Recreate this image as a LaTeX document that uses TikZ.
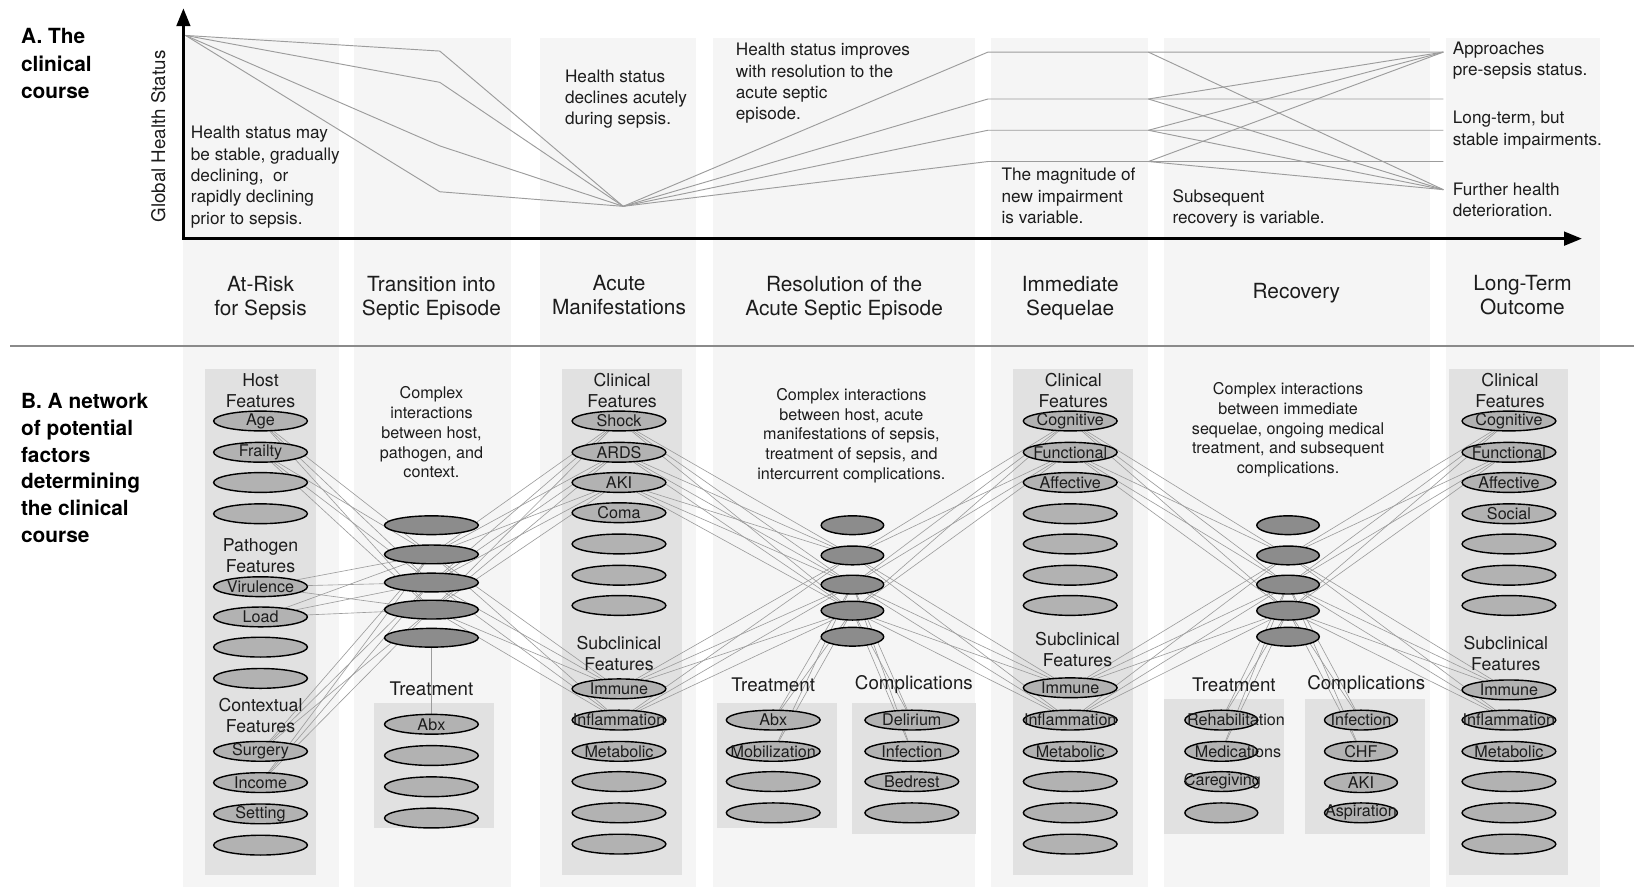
\documentclass[tikz,border=0pt]{standalone}
\usepackage{fontspec}
\setmainfont{TeX Gyre Heros}
\usetikzlibrary{shapes.geometric,arrows.meta}
\pgfdeclarelayer{bg}
\pgfdeclarelayer{mid}
\pgfsetlayers{bg,mid,main}
\definecolor{colbg}{HTML}{F5F5F5}
\definecolor{boxbg}{HTML}{E1E1E1}
\definecolor{ellfill}{HTML}{B2B2B2}
\definecolor{hubfill}{HTML}{8C8C8C}
\definecolor{linegray}{HTML}{9C9C9C}
\definecolor{sepgray}{HTML}{8A8A8A}
\definecolor{txt}{HTML}{1C1C1C}
\tikzset{
  ell/.style={ellipse, draw=black, line width=1.35pt, fill=ellfill, minimum width=90pt, minimum height=19pt, inner sep=0pt},
  ellsm/.style={ell, minimum width=70pt},
  hub/.style={ell, fill=hubfill, minimum height=18pt},
  hubsm/.style={hub, minimum width=60pt},
  elab/.style={font=\fontsize{15.5}{15.5}\selectfont, inner sep=0pt, text=txt},
  conn/.style={draw=linegray, line width=0.6pt},
  course/.style={draw=linegray, line width=0.9pt},
  atxt/.style={font=\fontsize{16.5}{20.5}\selectfont, align=left, anchor=west, inner sep=0pt, text=txt},
  hdr/.style={font=\fontsize{20}{23}\selectfont, align=center, inner sep=0pt, text=txt},
  grp/.style={font=\fontsize{17}{20}\selectfont, align=center, inner sep=0pt, text=txt},
  tlab/.style={font=\fontsize{18}{18}\selectfont, inner sep=0pt, text=txt},
  cx/.style={font=\fontsize{15.5}{19}\selectfont, align=center, inner sep=0pt, text=txt},
  big/.style={font=\bfseries\fontsize{20}{26}\selectfont, align=left, anchor=west, inner sep=0pt},
}
\newcommand\Ell[4]{\node[#1] (#2) at (#3) {}; \node[elab] (#2-t) at (#2.center) {#4};}
\begin{document}
\begin{tikzpicture}[x=1pt,y=-1pt]
\useasboundingbox (0,0) rectangle (1568,851);
\begin{pgfonlayer}{bg}
  \fill[white] (0,0) rectangle (1568,851);
  \foreach \a/\b in {176/325,340/490,518/668,684/936,951/1102,1117/1372,1388/1535}
    \fill[colbg] (\a,36) rectangle (\b,851);
  \fill[boxbg] (197,354) rectangle (303,840);
  \fill[boxbg] (539,354) rectangle (654,840);
  \fill[boxbg] (972,354) rectangle (1087,840);
  \fill[boxbg] (1390,354) rectangle (1505,840);
  \fill[boxbg] (359,675) rectangle (474,795);
  \fill[boxbg] (688,675) rectangle (803,795);
  \fill[boxbg] (818,675) rectangle (937,800);
  \fill[boxbg] (1117,671) rectangle (1232,800);
  \fill[boxbg] (1252,671) rectangle (1367,800);
\end{pgfonlayer}

% ---------- Part A ----------
\node[big] (labA) at (20,61) {A. The\\clinical\\course};
\draw[sepgray, line width=2pt] (10,332) -- (1568,332);

\coordinate (S) at (178,34);
\coordinate (T1) at (422,49); \coordinate (T2) at (422,79);
\coordinate (T3) at (422,140); \coordinate (T4) at (422,184);
\coordinate (M) at (598,198);
\coordinate (R1) at (948,50); \coordinate (R2) at (948,95);
\coordinate (R3) at (948,125); \coordinate (R4) at (948,155);
\coordinate (Q1) at (1102,50); \coordinate (Q2) at (1102,95);
\coordinate (Q3) at (1102,125); \coordinate (Q4) at (1102,155);
\coordinate (E1) at (1385,50); \coordinate (E2) at (1385,95);
\coordinate (E3) at (1385,125); \coordinate (E4) at (1385,155);
\coordinate (D) at (1385,182);
\foreach \t in {T1,T2,T3,T4} \draw[course] (S) -- (\t) -- (M);
\draw[course] (M) -- (R1) -- (Q1) -- (E1);
\draw[course] (M) -- (R2) -- (Q2) -- (E2);
\draw[course] (M) -- (R3) -- (Q3) -- (E3);
\draw[course] (M) -- (R4) -- (Q4) -- (E4);
\draw[course] (Q1) -- (D);
\foreach \q in {Q2,Q3,Q4} {\draw[course] (\q) -- (E1); \draw[course] (\q) -- (D);}

\coordinate (ytip) at (176,8);
\coordinate (orig) at (176,229);
\coordinate (xtip) at (1518,229);
\draw[line width=2.6pt, line join=miter, {Triangle[length=17pt,width=13pt]}-{Triangle[length=17pt,width=13pt]}] (ytip) -- (orig) -- (xtip);
\node[rotate=90, font=\fontsize{18}{18}\selectfont, inner sep=0pt, text=txt] (ylab) at (152,131) {Global Health Status};

\node[atxt] (a1) at (183,170) {Health status may\\be stable, gradually\\declining,\ \ or\\rapidly declining\\prior to sepsis.};
\node[atxt] (a2) at (542,95) {Health status\\declines acutely\\during sepsis.};
\node[atxt] (a3) at (706,80) {Health status improves\\with resolution to the\\acute septic\\episode.};
\node[atxt] (a4) at (961,188) {The magnitude of\\new impairment\\is variable.};
\node[atxt] (a5) at (1125,200) {Subsequent\\recovery is variable.};
\node[atxt] (a6) at (1394,58) {Approaches\\pre-sepsis status.};
\node[atxt] (a7) at (1394,125) {Long-term, but\\stable impairments.};
\node[atxt] (a8) at (1394,192) {Further health\\deterioration.};

\node[hdr] (h1) at (250,286.5) {At-Risk\\for Sepsis};
\node[hdr] (h2) at (414,286.5) {Transition into\\Septic Episode};
\node[hdr] (h3) at (594,283.5) {Acute\\Manifestations};
\node[hdr] (h4) at (810,286.5) {Resolution of the\\Acute Septic Episode};
\node[hdr] (h5) at (1027,286.5) {Immediate\\Sequelae};
\node[hdr] (h6) at (1244,281) {Recovery};
\node[hdr] (h7) at (1461,283.5) {Long-Term\\Outcome};

% ---------- Part B ----------
\node[big, font=\bfseries\fontsize{20}{25.6}\selectfont] (labB) at (20,449) {B. A network\\of potential\\factors\\determining\\the clinical\\course};

% column 1
\node[grp] (g1a) at (250,375) {Host\\Features};
\node[grp] (g1b) at (250,533.5) {Pathogen\\Features};
\node[grp] (g1c) at (250,687) {Contextual\\Features};
\foreach \n/\y/\t in {1/404/Age,2/434/Frailty,3/463/,4/493/,5/563/Virulence,6/592/Load,7/621/,8/651/,9/721/Surgery,10/751/Income,11/781/Setting,12/811/}
  {\Ell{ell}{c1-\n}{250,\y}{\t}}

% column 2
\node[cx] (x2) at (414,415) {Complex\\interactions\\between host,\\pathogen, and\\context.};
\foreach \n/\y in {1/504,2/532,3/559,4/585,5/612}
  {\node[hub] (h2-\n) at (414,\y) {};}
\node[tlab] (tl2) at (414,661) {Treatment};
\foreach \n/\y/\t in {1/695/Abx,2/725/,3/755/,4/785/}
  {\Ell{ell}{t2-\n}{414,\y}{\t}}

% column 3
\node[grp] (g3a) at (597,375) {Clinical\\Features};
\node[grp] (g3b) at (594,627) {Subclinical\\Features};
\foreach \n/\y/\t in {1/404/Shock,2/434/ARDS,3/463/AKI,4/492/Coma,5/522/,6/552/,7/581/,8/661/Immune,9/691/Inflammation,10/721/Metabolic,11/750/,12/780/,13/810/}
  {\Ell{ell}{c3-\n}{594,\y}{\t}}

% column 4
\node[cx] (x4) at (817,418) {Complex interactions\\between host, acute\\manifestations of sepsis,\\treatment of sepsis, and\\intercurrent complications.};
\foreach \n/\y in {1/504,2/533,3/561,4/586,5/611}
  {\node[hubsm] (h4-\n) at (818,\y) {};}
\node[tlab] (tl4) at (742,657) {Treatment};
\node[tlab] (cl4) at (877,657) {Complications};
\foreach \n/\y/\t in {1/691/Abx,2/721/Mobilization,3/750/,4/780/}
  {\Ell{ell}{t4-\n}{742,\y}{\t}}
\foreach \n/\y/\t in {1/691/Delirium,2/721/Infection,3/750/Bedrest,4/780/}
  {\Ell{ell}{k4-\n}{875,\y}{\t}}

% column 5
\node[grp] (g5a) at (1030,375) {Clinical\\Features};
\node[grp] (g5b) at (1034,623) {Subclinical\\Features};
\foreach \n/\y/\t in {1/404/Cognitive,2/434/Functional,3/463/Affective,4/493/,5/522/,6/552/,7/581/,8/660/Immune,9/691/Inflammation,10/721/Metabolic,11/750/,12/780/,13/810/}
  {\Ell{ell}{c5-\n}{1027,\y}{\t}}

% column 6
\node[cx] (x6) at (1236,412.5) {Complex interactions\\between immediate\\sequelae, ongoing medical\\treatment, and subsequent\\complications.};
\foreach \n/\y in {1/504,2/533,3/561,4/586,5/611}
  {\node[hubsm] (h6-\n) at (1236,\y) {};}
\node[tlab] (tl6) at (1184,657) {Treatment};
\node[tlab] (cl6) at (1311,657) {Complications};
\foreach \n/\y in {1/691,2/721,3/750,4/780}
  {\node[ellsm] (t6-\n) at (1172,\y) {};}
\node[elab] (t6-1-t) at (1186,691) {Rehabilitation};
\node[elab] (t6-2-t) at (1188,721) {Medications};
\node[elab] (t6-3-t) at (1173,750) {Caregiving};
\foreach \n/\y/\t in {1/691/Infection,2/721/CHF,3/751/AKI,4/780/Aspiration}
  {\Ell{ellsm}{k6-\n}{1306,\y}{\t}}

% column 7
\node[grp] (g7a) at (1449,375) {Clinical\\Features};
\node[grp] (g7b) at (1445,627) {Subclinical\\Features};
\foreach \n/\y/\t in {1/404/Cognitive,2/434/Functional,3/463/Affective,4/493/Social,5/522/,6/552/,7/581/,8/662/Immune,9/691/Inflammation,10/721/Metabolic,11/750/,12/780/,13/810/}
  {\Ell{ell}{c7-\n}{1448,\y}{\t}}

% ---------- connectors ----------
\begin{pgfonlayer}{mid}
  \foreach \s in {c1-1,c1-2,c1-5,c1-6,c1-9,c1-10}
    \foreach \h in {h2-2,h2-3,h2-4} \draw[conn] (\s) -- (\h);
  \draw[conn] (h2-5) -- (t2-1);
  \foreach \h in {h2-2,h2-3,h2-4}
    \foreach \s in {c3-1,c3-2,c3-3,c3-8,c3-9} \draw[conn] (\h) -- (\s);
  \foreach \s in {c3-1,c3-2,c3-3,c3-8,c3-9}
    \foreach \h in {h4-2,h4-3,h4-4} \draw[conn] (\s) -- (\h);
  \foreach \h in {h4-3,h4-4}
    \foreach \s in {t4-1,t4-2,k4-1,k4-2} \draw[conn] (\h) -- (\s);
  \foreach \h in {h4-2,h4-3,h4-4}
    \foreach \s in {c5-1,c5-2,c5-8,c5-9} \draw[conn] (\h) -- (\s);
  \foreach \s in {c5-1,c5-2,c5-8,c5-9}
    \foreach \h in {h6-2,h6-3,h6-4} \draw[conn] (\s) -- (\h);
  \foreach \h in {h6-3,h6-4}
    \foreach \s in {t6-1,t6-2,k6-1,k6-2} \draw[conn] (\h) -- (\s);
  \foreach \h in {h6-2,h6-3,h6-4}
    \foreach \s in {c7-1,c7-2,c7-8,c7-9} \draw[conn] (\h) -- (\s);
\end{pgfonlayer}
\end{tikzpicture}
\end{document}
